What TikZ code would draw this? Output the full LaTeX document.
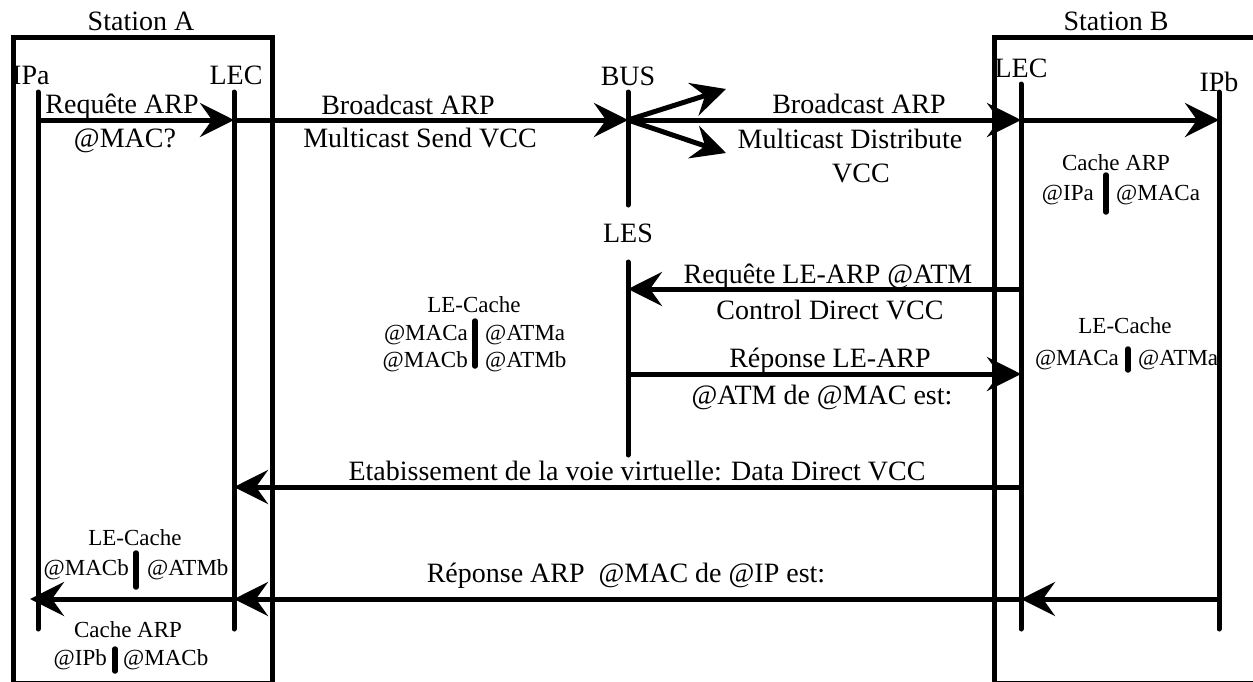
\documentclass[tikz,border=0pt]{standalone}
\usepackage{fontspec}
\setmainfont{Liberation Serif}
\usetikzlibrary{arrows.meta}
\begin{document}
\begin{tikzpicture}[x=1pt,y=-1pt,
  big/.style={font=\fontsize{28}{30}\selectfont, inner sep=0pt, anchor=base},
  small/.style={font=\fontsize{23}{26}\selectfont, inner sep=0pt, anchor=base},
  life/.style={line width=5pt, line cap=round},
  msg/.style={line width=5pt, -{Stealth[length=34pt,width=34pt,inset=12pt]}},
  boxline/.style={line width=5pt},
  sepbar/.style={line width=5.5pt, line cap=round}]
\useasboundingbox (0,0) rectangle (1253,681);
\clip (0,0) rectangle (1253,681);
\fill[white] (0,0) rectangle (1253,681);

% station boxes
\draw[boxline] (13,683) -- (13,37) -- (272,37) -- (272,683) -- cycle;
\draw[boxline] (994,683) -- (994,37) -- (1280,37) -- (1280,683) -- cycle;
\node[big] (stA) at (141,30) {Station A};
\node[big] (stB) at (1116,30) {Station B};

% lifeline coordinates
\coordinate (ipaT) at (38,92);   \coordinate (ipaB) at (38,629);
\coordinate (lecaT) at (234,92); \coordinate (lecaB) at (234,629);
\coordinate (busT) at (628,92);  \coordinate (busB) at (628,205);
\coordinate (lesT) at (628,262); \coordinate (lesB) at (628,455);
\coordinate (lecbT) at (1021,84); \coordinate (lecbB) at (1021,629);
\coordinate (ipbT) at (1219,92); \coordinate (ipbB) at (1219,629);

\draw[life] (ipaT) -- (ipaB);
\draw[life] (lecaT) -- (lecaB);
\draw[life] (busT) -- (busB);
\draw[life] (lesT) -- (lesB);
\draw[life] (lecbT) -- (lecbB);
\draw[life] (ipbT) -- (ipbB);

% lifeline labels
\node[big, anchor=base west] (lIPa) at (12,84) {IPa};
\node[big] (lLECa) at (236,84) {LEC};
\node[big] (lBUS) at (628,85) {BUS};
\node[big] (lLES) at (628,242) {LES};
\node[big] (lLECb) at (1021,77) {LEC};
\node[big] (lIPb) at (1219,91) {IPb};

% message row 1
\coordinate (m1a) at (38,120);  \coordinate (m1b) at (234,120);
\coordinate (m1c) at (628,120); \coordinate (m1d) at (1021,120);
\coordinate (m1e) at (1219,120);
\coordinate (bu1) at (726,89);  \coordinate (bu2) at (726,153);
\draw[msg] (m1a) -- (m1b);
\draw[msg] (m1b) -- (m1c);
\draw[msg] (m1c) -- (m1d);
\draw[msg] (m1d) -- (m1e);
\draw[msg] (m1c) -- (bu1);
\draw[msg] (m1c) -- (bu2);

\node[big] (t1) at (122,113) {Requête ARP};
\node[big] (t2) at (125,147) {@MAC?};
\node[big] (t3) at (408,114) {Broadcast ARP};
\node[big] (t4) at (420,147) {Multicast Send VCC};
\node[big] (t5) at (859,113) {Broadcast ARP};
\node[big] (t6) at (850,148) {Multicast Distribute};
\node[big] (t7) at (861,182) {VCC};

% cache ARP station B
\node[small] (c1) at (1116,170) {Cache ARP};
\node[small, anchor=base east] (c1l) at (1094,200) {@IPa};
\node[small, anchor=base west] (c1r) at (1116,200) {@MACa};
\draw[sepbar] (1106,175) -- (1106,212);

% LE-ARP
\coordinate (m2a) at (1021,289); \coordinate (m2b) at (628,289);
\coordinate (m3a) at (628,374);  \coordinate (m3b) at (1021,374);
\draw[msg] (m2a) -- (m2b);
\draw[msg] (m3a) -- (m3b);
\node[big] (t8) at (828,283) {Requête LE-ARP @ATM};
\node[big] (t9) at (830,319) {Control Direct VCC};
\node[big] (t10) at (830,367) {Réponse LE-ARP};
\node[big] (t11) at (822,404) {@ATM de @MAC est:};

% LE-Cache middle (LES)
\node[small] (lc1) at (474,312) {LE-Cache};
\node[small, anchor=base east] (lc1a) at (468,340) {@MACa};
\node[small, anchor=base east] (lc1b) at (468,367) {@MACb};
\node[small, anchor=base west] (lc1c) at (485,340) {@ATMa};
\node[small, anchor=base west] (lc1d) at (485,367) {@ATMb};
\draw[sepbar] (475,321) -- (475,366);

% LE-Cache station B
\node[small] (lc2) at (1125,333) {LE-Cache};
\node[small, anchor=base east] (lc2a) at (1119,365) {@MACa};
\begin{scope}
\clip (1100,330) rectangle (1219,380);
\node[small, anchor=base west] (lc2b) at (1138,365) {@ATMa};
\end{scope}
\draw[sepbar] (1128,349) -- (1128,370);
\draw[life] (1219,330) -- (1219,380);

% data direct
\coordinate (m4a) at (1021,487); \coordinate (m4b) at (234,487);
\draw[msg] (m4a) -- (m4b);
\node[big] (t12) at (637,480) {Etabissement de la voie virtuelle: Data Direct VCC};

% LE-Cache station A
\node[small] (lc3) at (135,545) {LE-Cache};
\node[small, anchor=base east] (lc3a) at (129,575) {@MACb};
\begin{scope}
\clip (140,540) rectangle (234,590);
\node[small, anchor=base west] (lc3b) at (147,575) {@ATMb};
\end{scope}
\draw[sepbar] (136,553) -- (136,587);

% ARP reply
\coordinate (m5a) at (1219,599); \coordinate (m5b) at (1021,599);
\coordinate (m5c) at (234,599);  \coordinate (m5d) at (30,599);
\draw[msg] (m5a) -- (m5b);
\draw[msg] (m5b) -- (m5c);
\draw[msg] (m5c) -- (m5d);
\node[big] (t13) at (626,582) {Réponse ARP\ \ @MAC de @IP est:};

% cache ARP station A
\node[small] (c2) at (128,637) {Cache ARP};
\node[small, anchor=base east] (c2l) at (107,665) {@IPb};
\node[small, anchor=base west] (c2r) at (123,665) {@MACb};
\draw[sepbar] (115,649) -- (115,671);
\end{tikzpicture}
\end{document}
